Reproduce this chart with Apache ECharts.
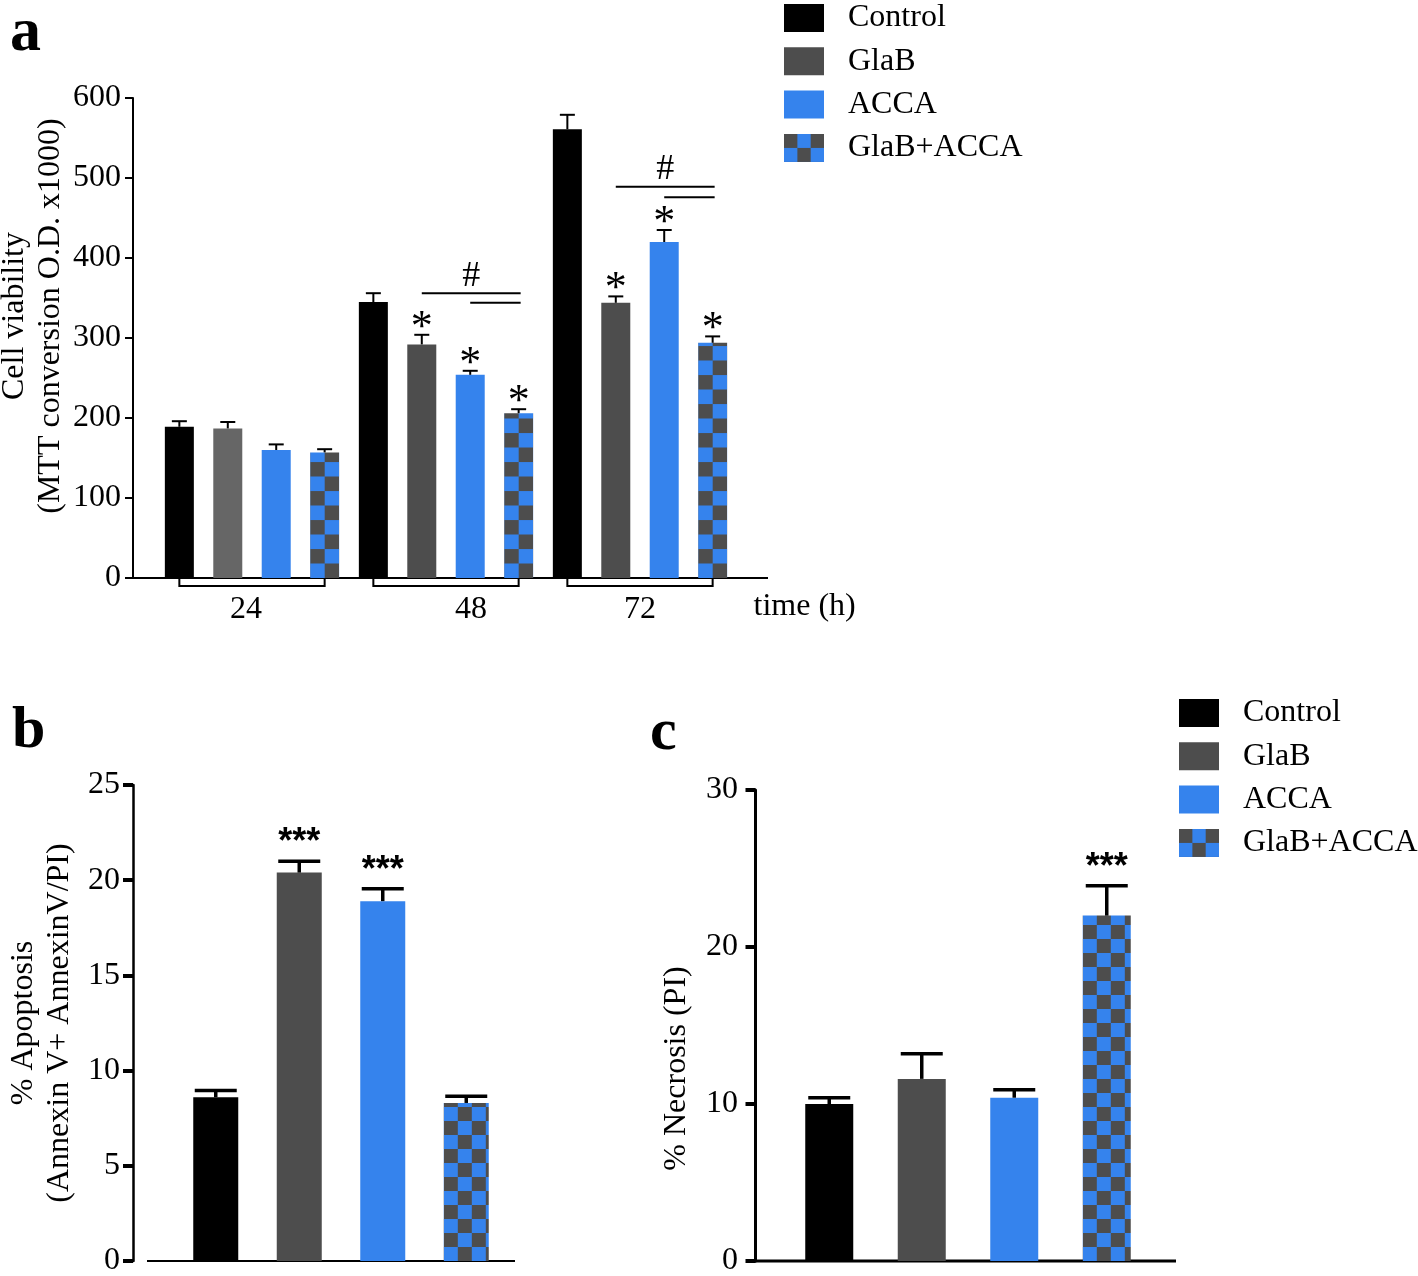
<!DOCTYPE html>
<html><head><meta charset="utf-8">
<script src="https://cdn.jsdelivr.net/npm/echarts@6/dist/echarts.min.js"></script>
<style>html,body{margin:0;padding:0;background:#fff}#c{width:1418px;height:1276px}</style>
</head><body><div id="c"></div>
<script>
// ---------------- data ----------------
const seriesNames = ['Control', 'GlaB', 'ACCA', 'GlaB+ACCA'];
const timeCategories = ['24', '48', '72'];
const viabilityControl = [189, 345, 561];
const viabilityControlErr = [7, 11, 18];
const viabilityGlaB = [187, 292, 344];
const viabilityGlaBErr = [8, 12, 8];
const viabilityACCA = [160, 254, 420];
const viabilityACCAErr = [7, 5, 15];
const viabilityCombo = [157, 206, 294];
const viabilityComboErr = [4, 5, 8];
const viabilityStarsControl = ['', '', ''];
const viabilityStarsGlaB = ['', '*', '*'];
const viabilityStarsACCA = ['', '*', '*'];
const viabilityStarsCombo = ['', '*', '*'];
// [category index, from series, to series, level, show '#']
const viabilityHash = [[1, 1, 3, 356, 1], [1, 2, 3, 344, 0], [2, 1, 3, 489, 1], [2, 2, 3, 476, 0]];
const viabilityTicks = [0, 600, 100];
const apoptosis = [8.6, 20.4, 18.9, 8.3];
const apoptosisErr = [0.35, 0.6, 0.65, 0.35];
const apoptosisStars = ['', '***', '***', ''];
const apoptosisTicks = [0, 25, 5];
const necrosis = [10.0, 11.6, 10.4, 22.0];
const necrosisErr = [0.4, 1.6, 0.5, 1.9];
const necrosisStars = ['', '', '', '***'];
const necrosisTicks = [0, 30, 10];

// ---------------- styling ----------------
const FF = 'Liberation Serif';
const FS = 32;
const BLUE = '#3583ed', DARK = '#4d4d4d', BLACK = '#000000';
function makeChecker() {
  const cv = document.createElement('canvas');
  cv.width = 28; cv.height = 28;
  const ctx = cv.getContext('2d');
  ctx.fillStyle = DARK; ctx.fillRect(0, 0, 14, 14); ctx.fillRect(14, 14, 14, 14);
  ctx.fillStyle = BLUE; ctx.fillRect(14, 0, 14, 14); ctx.fillRect(0, 14, 14, 14);
  return cv;
}
const checker = makeChecker();
const checkerFill = (x, y, sx, sy) => ({ image: checker, repeat: 'repeat', x: x || 0, y: y || 0, scaleX: sx || 1, scaleY: sy || 1 });
const solidColors = [BLACK, DARK, BLUE];

const A = { barW: 29, gap: 0.67 }, B = { barW: 45 }, C = { barW: 48 };

function slotOffset(k, n, w, g) {
  const total = n * w + (n - 1) * w * g;
  return -total / 2 + k * w * (1 + g) + w / 2;
}

function errSeries(id, gi, values, errs, stars, off, capW, lw, starFont, starLift) {
  const data = [];
  values.forEach((v, i) => { if (v !== '-') data.push([i, v, errs[i]]); });
  return {
    id, type: 'custom', xAxisIndex: gi, yAxisIndex: gi, coordinateSystem: 'cartesian2d',
    encode: { x: 0, y: 1 }, data, z: 5, silent: true, clip: false,
    renderItem(params, api) {
      const cat = api.value(0), v = api.value(1), e = api.value(2);
      const base = api.coord([cat, v]);
      const top = api.coord([cat, v + e]);
      const x = base[0] + off;
      const ch = [
        { type: 'line', shape: { x1: x, y1: base[1], x2: x, y2: top[1] }, style: { stroke: '#000', lineWidth: lw } },
        { type: 'line', shape: { x1: x - capW / 2, y1: top[1], x2: x + capW / 2, y2: top[1] }, style: { stroke: '#000', lineWidth: lw } }
      ];
      const s = stars[cat];
      if (s) ch.push({ type: 'text', x: x, y: top[1] - starLift, style: { text: s, font: starFont, fill: '#000', align: 'center', verticalAlign: 'middle' } });
      return { type: 'group', children: ch };
    }
  };
}

const series = [];
// ---- panel a bars ----
const aVals = [viabilityControl, viabilityGlaB, viabilityACCA, viabilityCombo];
const aErrs = [viabilityControlErr, viabilityGlaBErr, viabilityACCAErr, viabilityComboErr];
const aStars = [viabilityStarsControl, viabilityStarsGlaB, viabilityStarsACCA, viabilityStarsCombo];
aVals.forEach((vals, k) => {
  series.push({
    id: 'a' + k, name: seriesNames[k], type: 'bar', xAxisIndex: 0, yAxisIndex: 0,
    barWidth: A.barW, barGap: (A.gap * 100) + '%', silent: true, animation: false,
    itemStyle: { color: k < 3 ? solidColors[k] : checkerFill() },
    data: vals.map((v, i) => (k === 1 && i === 0) ? { value: v, itemStyle: { color: '#666666' } } : v)
  });
});
aVals.forEach((vals, k) => {
  series.push(errSeries('ae' + k, 0, vals, aErrs[k], aStars[k], slotOffset(k, 4, A.barW, A.gap), 15, 2, '44px ' + FF, 6.5));
});
// brackets below the groups
series.push({
  id: 'brackets', type: 'custom', xAxisIndex: 0, yAxisIndex: 0, coordinateSystem: 'cartesian2d',
  encode: { x: 0, y: 1 }, data: timeCategories.map((_, i) => [i, 0]), clip: false, silent: true, z: 5,
  renderItem(params, api) {
    const p = api.coord([api.value(0), 0]);
    const l = p[0] + slotOffset(0, 4, A.barW, A.gap), r = p[0] + slotOffset(3, 4, A.barW, A.gap);
    return { type: 'polyline', shape: { points: [[l, p[1]], [l, p[1] + 8], [r, p[1] + 8], [r, p[1]]] }, style: { stroke: '#000', lineWidth: 2, fill: null } };
  }
});
// '#' comparison lines
series.push({
  id: 'hash', type: 'custom', xAxisIndex: 0, yAxisIndex: 0, coordinateSystem: 'cartesian2d',
  encode: { x: 0, y: 3 }, data: viabilityHash, clip: false, silent: true, z: 5,
  renderItem(params, api) {
    const cat = api.value(0), f = api.value(1), t = api.value(2), lv = api.value(3), show = api.value(4);
    const p = api.coord([cat, lv]);
    const x1 = p[0] + slotOffset(f, 4, A.barW, A.gap), x2 = p[0] + slotOffset(t, 4, A.barW, A.gap) + 2;
    const ch = [{ type: 'line', shape: { x1, y1: p[1], x2, y2: p[1] }, style: { stroke: '#000', lineWidth: 2 } }];
    if (show) ch.push({ type: 'text', x: (x1 + x2) / 2, y: p[1] - 17, style: { text: '#', font: '36px ' + FF, fill: '#000', align: 'center', verticalAlign: 'middle' } });
    return { type: 'group', children: ch };
  }
});
// ---- panels b & c ----
[[1, apoptosis, apoptosisErr, apoptosisStars, B], [2, necrosis, necrosisErr, necrosisStars, C]].forEach(([gi, vals, errs, stars, P]) => {
  seriesNames.forEach((nm, k) => {
    const d = vals.map((v, i) => i === k ? v : '-');
    series.push({
      id: 'p' + gi + '_' + k, name: nm, type: 'bar', xAxisIndex: gi, yAxisIndex: gi, stack: 'g' + gi,
      barWidth: P.barW, silent: true, animation: false,
      itemStyle: { color: k < 3 ? solidColors[k] : checkerFill() }, data: d
    });
    const st = vals.map((v, i) => i === k ? stars[i] : '');
    series.push(errSeries('pe' + gi + '_' + k, gi, d, errs, st, 0, 42, 3.5, 'bold 36px Liberation Sans', 18));
  });
});

const legendTemplate = (left, top) => ({
  left, top, padding: 0, orient: 'vertical', itemWidth: 40, itemHeight: 28, itemGap: 11.3, icon: 'rect', selectedMode: false,
  formatter: '{t|{name}}',
  textStyle: { color: '#000', fontFamily: FF, fontSize: FS, rich: { t: { fontFamily: FF, fontSize: FS, lineHeight: 28, padding: [0, 0, 0, 19], color: '#000' } } },
  data: seriesNames.map((nm, k) => ({ name: nm, itemStyle: { color: k < 3 ? solidColors[k] : checkerFill(0, 0, 40 / 42, 1) } }))
});

const yCommon = (gi, ticks, offset, margin, lineW, tickW, tickLen) => ({
  gridIndex: gi, type: 'value', min: ticks[0], max: ticks[1], interval: ticks[2], offset,
  axisLine: { show: true, lineStyle: { color: '#000', width: lineW } },
  axisTick: { show: true, length: tickLen, lineStyle: { color: '#000', width: tickW } },
  axisLabel: { fontSize: FS, fontFamily: FF, color: '#000', margin },
  splitLine: { show: false },
  nameLocation: 'middle', nameRotate: 90
});

const option = {
  animation: false,
  backgroundColor: '#ffffff',
  grid: [
    { left: 155, top: 98, width: 582, height: 480, outerBoundsMode: 'none', containLabel: false },
    { left: 174, top: 785, width: 334, height: 476, outerBoundsMode: 'none', containLabel: false },
    { left: 783, top: 790, width: 370, height: 471, outerBoundsMode: 'none', containLabel: false }
  ],
  xAxis: [
    {
      gridIndex: 0, type: 'category', data: timeCategories,
      axisLine: { show: true, lineStyle: { color: '#000', width: 2 } }, axisTick: { show: false },
      axisLabel: {
        fontSize: FS, fontFamily: FF, color: '#000', margin: 16,
        formatter: v => v === '48' ? '{r|' + v + '}' : (v === '24' ? '{l|' + v + '}' : v),
        rich: { r: { fontSize: FS, fontFamily: FF, color: '#000', padding: [0, 0, 0, 50] }, l: { fontSize: FS, fontFamily: FF, color: '#000', padding: [0, 12, 0, 0] } }
      },
      name: 'time (h)', nameLocation: 'end', nameGap: 16.5,
      nameTextStyle: { fontSize: FS, fontFamily: FF, color: '#000', verticalAlign: 'top', lineHeight: 58 }
    },
    { gridIndex: 1, type: 'category', data: seriesNames, show: false },
    { gridIndex: 2, type: 'category', data: seriesNames, show: false }
  ],
  yAxis: [
    Object.assign(yCommon(0, viabilityTicks, 22, 12, 2, 2, 8), {
      name: 'Cell viability\n(MTT conversion O.D. x1000)', nameGap: 64,
      nameTextStyle: { fontSize: FS, fontFamily: FF, color: '#000', lineHeight: 36, padding: [0, 0, 0, 44] }
    }),
    Object.assign(yCommon(1, apoptosisTicks, 41, 13, 2.5, 4, 10), {
      name: '% Apoptosis\n(Annexin V+ AnnexinV/PI)', nameGap: 55,
      nameTextStyle: { fontSize: FS, fontFamily: FF, color: '#000', lineHeight: 36 }
    }),
    Object.assign(yCommon(2, necrosisTicks, 27.5, 17.5, 3, 4, 10), {
      name: '% Necrosis (PI)', nameGap: 63,
      nameTextStyle: { fontSize: FS, fontFamily: FF, color: '#000', padding: [0, 86, 0, 0] }
    })
  ],
  legend: [legendTemplate(784, 2), legendTemplate(1179, 697)],
  graphic: [
    { type: 'text', x: 10, y: 34, style: { text: 'a', font: 'bold 62px ' + FF, fill: '#000', verticalAlign: 'middle' } },
    { type: 'text', x: 12, y: 731, style: { text: 'b', font: 'bold 60px ' + FF, fill: '#000', verticalAlign: 'middle' } },
    { type: 'text', x: 650, y: 733, style: { text: 'c', font: 'bold 60px ' + FF, fill: '#000', verticalAlign: 'middle' } },
    { type: 'line', shape: { x1: 133, y1: 578, x2: 768, y2: 578 }, style: { stroke: '#000', lineWidth: 2 } },
    { type: 'line', shape: { x1: 147, y1: 1261, x2: 515, y2: 1261 }, style: { stroke: '#000', lineWidth: 2 } },
    { type: 'line', shape: { x1: 755, y1: 1261, x2: 1176, y2: 1261 }, style: { stroke: '#000', lineWidth: 3 } }
  ],
  series
};

const chart = echarts.init(document.getElementById('c'), null, { renderer: 'canvas' });
chart.setOption(option);

// align the checker pattern with each combination bar's bottom-left corner
try {
  const model = chart.getModel();
  const combos = [
    { id: 'a3', vals: viabilityCombo, s: 14.5 / 14 },
    { id: 'p1_3', vals: apoptosis.map((v, i) => i === 3 ? v : '-'), s: 1 },
    { id: 'p2_3', vals: necrosis.map((v, i) => i === 3 ? v : '-'), s: 1 }
  ];
  const upd = combos.map(c => {
    const sm = model.getSeries().find(s => s.id === c.id);
    const data = sm.getData();
    return {
      id: c.id,
      data: c.vals.map((v, i) => {
        if (v === '-') return '-';
        const L = data.getItemLayout(i);
        return { value: v, itemStyle: { color: checkerFill(L.x, L.y, c.s, c.s) } };
      })
    };
  });
  chart.setOption({ series: upd });
} catch (e) { console.log(e); }
</script>
</body></html>
